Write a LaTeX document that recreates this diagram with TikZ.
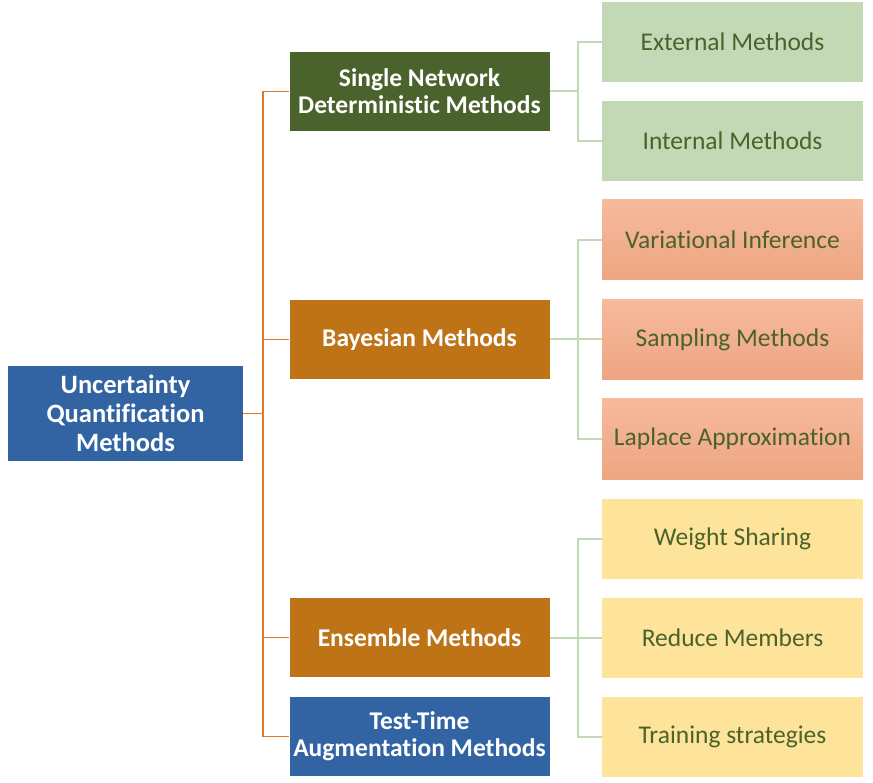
\documentclass[tikz,border=0pt]{standalone}
\usepackage{fontspec}
\setmainfont{Carlito}[Ligatures=NoCommon]
\usetikzlibrary{positioning}

\definecolor{rootblue}{HTML}{3264A4}
\definecolor{darkgreen}{HTML}{4A622B}
\definecolor{brown}{HTML}{BE7416}
\definecolor{leafgreen}{HTML}{C3D9B5}
\definecolor{salmontop}{HTML}{F6BA9D}
\definecolor{salmonbot}{HTML}{EEA581}
\definecolor{leafyellow}{HTML}{FDE49A}
\definecolor{linkorange}{HTML}{E0782A}

\tikzset{
    mainbox/.style={minimum width=260pt, minimum height=79pt, align=center, text=white,
        font=\fontsize{25.5}{27}\selectfont\bfseries, inner sep=0pt},
    leafbox/.style={minimum width=261pt, minimum height=80pt, align=center, text=darkgreen,
        font=\fontsize{25.5}{27}\selectfont, inner sep=0pt},
    greenlink/.style={draw=leafgreen, line width=2pt},
    orangelink/.style={draw=linkorange, line width=1.5pt}
}

\begin{document}
\begin{tikzpicture}[x=1pt,y=-1pt]
    \useasboundingbox (0,0) rectangle (873,783);
    %root
    \node[mainbox, fill=rootblue, minimum width=235pt, minimum height=95pt,
        font=\fontsize{26.5}{29}\selectfont\bfseries] (uq) at (125.5,413.5) {Uncertainty\\Quantification\\Methods};

    %first level
    \node[mainbox, fill=darkgreen] (sndm) at (419.5,91.5) {Single Network\\Deterministic Methods};
    \node[mainbox, fill=brown] (bayes) at (419.5,339.5) {Bayesian Methods};
    \node[mainbox, fill=brown] (ens) at (419.5,637.5) {Ensemble Methods};
    \node[mainbox, fill=rootblue] (tta) at (419.5,736.5) {Test-Time\\Augmentation Methods};

    %leaves
    \node[leafbox, fill=leafgreen] (ext) at (732.5,42) {External Methods};
    \node[leafbox, fill=leafgreen] (int) at (732.5,141) {Internal Methods};
    \node[leafbox, top color=salmontop, bottom color=salmonbot] (vi) at (732.5,240) {Variational Inference};
    \node[leafbox, top color=salmontop, bottom color=salmonbot] (samp) at (732.5,339.5) {Sampling Methods};
    \node[leafbox, top color=salmontop, bottom color=salmonbot] (lap) at (732.5,439) {Laplace Approximation};
    \node[leafbox, fill=leafyellow] (ws) at (732.5,538.5) {Weight Sharing};
    \node[leafbox, fill=leafyellow] (rm) at (732.5,637.5) {Reduce Members};
    \node[leafbox, fill=leafyellow] (ts) at (732.5,736.5) {Training strategies};

    %links from the root
    \coordinate (rj) at (263,413.5);
    \draw[orangelink] (uq.east) -- (rj);
    \foreach \n in {sndm,bayes,ens,tta}
        \draw[orangelink] (rj) |- (\n.west);

    %links to the leaves
    \foreach \p/\a/\b in {sndm/ext/int, bayes/vi/lap, ens/ws/ts} {
        \coordinate (\p j) at ([xshift=28pt]\p.east);
        \draw[greenlink] (\p.east) -- (\p j);
        \draw[greenlink] (\p j) |- (\a.west);
        \draw[greenlink] (\p j) |- (\b.west);
    }
    \draw[greenlink] (bayesj) -- (samp.west);
    \draw[greenlink] (ensj) -- (rm.west);
\end{tikzpicture}
\end{document}
